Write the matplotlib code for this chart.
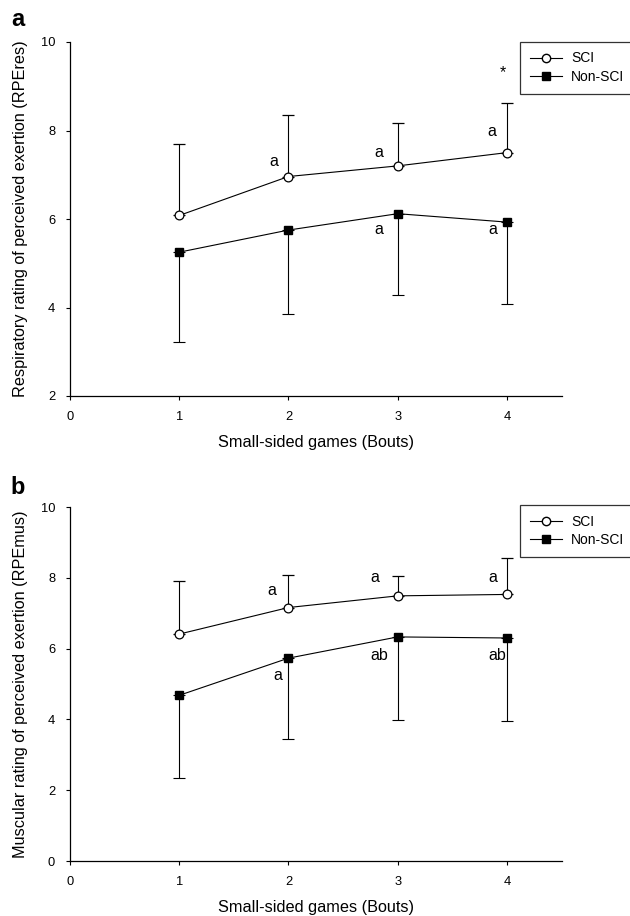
import matplotlib
matplotlib.use("Agg")
import matplotlib.pyplot as plt
from matplotlib.lines import Line2D

plt.rcParams['font.family'] = ['Liberation Sans', 'DejaVu Sans']

bouts = [1, 2, 3, 4]

# Panel a: respiratory RPE
res_sci = [6.08, 6.96, 7.20, 7.50]
res_sci_err = [1.61, 1.38, 0.98, 1.13]
res_non = [5.25, 5.75, 6.12, 5.93]
res_non_err = [2.03, 1.90, 1.84, 1.84]

# Panel b: muscular RPE
mus_sci = [6.41, 7.16, 7.49, 7.53]
mus_sci_err = [1.50, 0.93, 0.56, 1.02]
mus_non = [4.68, 5.73, 6.33, 6.30]
mus_non_err = [2.33, 2.27, 2.35, 2.35]

res_notes = [(1.87, 7.31, 'a'), (2.83, 7.51, 'a'), (3.86, 7.97, 'a'),
             (3.96, 9.30, '*'), (2.83, 5.76, 'a'), (3.87, 5.76, 'a')]
mus_notes = [(1.85, 7.63, 'a'), (2.79, 8.00, 'a'), (3.87, 8.00, 'a'),
             (1.90, 5.24, 'a'), (2.83, 5.80, 'ab'), (3.91, 5.80, 'ab')]

W, H = 630, 916
fig = plt.figure(figsize=(W / 100, H / 100), dpi=100)
left, width = 70 / W, 491.5 / W
axa = fig.add_axes([left, 1 - 396 / H, width, 354 / H])
axb = fig.add_axes([left, 1 - 861 / H, width, 354 / H])


def draw(ax, sci, sci_err, non, non_err, ylim, yticks, ylabel, notes):
    ax.errorbar(bouts, sci, yerr=[[0] * 4, sci_err], color='black', lw=0.8,
                marker='o', mfc='white', mec='black', ms=6.3, mew=0.9,
                capsize=4, elinewidth=0.8, capthick=0.8, zorder=3)
    ax.errorbar(bouts, non, yerr=[non_err, [0] * 4], color='black', lw=0.8,
                marker='s', mfc='black', mec='black', ms=5.6,
                capsize=4, elinewidth=0.8, capthick=0.8, zorder=3)
    ax.set_xlim(0, 4.5)
    ax.set_ylim(*ylim)
    ax.set_xticks([0, 1, 2, 3, 4])
    ax.set_yticks(yticks)
    ax.spines['top'].set_visible(False)
    ax.spines['right'].set_visible(False)
    for s in ('left', 'bottom'):
        ax.spines[s].set_linewidth(0.9)
    ax.tick_params(direction='out', length=3.2, width=0.8, labelsize=9.3, pad=7.5)
    ax.set_xlabel('Small-sided games (Bouts)', fontsize=11.7, labelpad=9)
    ax.set_ylabel(ylabel, fontsize=11.7, labelpad=9)
    for x, y, t in notes:
        ax.text(x, y, t, fontsize=11.5, ha='center', va='center')


draw(axa, res_sci, res_sci_err, res_non, res_non_err, (2, 10), [2, 4, 6, 8, 10],
     'Respiratory rating of perceived exertion (RPEres)', res_notes)
draw(axb, mus_sci, mus_sci_err, mus_non, mus_non_err, (0, 10), [0, 2, 4, 6, 8, 10],
     'Muscular rating of perceived exertion (RPEmus)', mus_notes)

handles = [Line2D([], [], color='black', lw=0.8, marker='o', mfc='white', mec='black', ms=6),
           Line2D([], [], color='black', lw=0.8, marker='s', mfc='black', mec='black', ms=5.3)]
for ytop in (1 - 41.5 / H, 1 - 505 / H):
    fig.legend(handles, ['SCI', 'Non-SCI'], loc='upper left',
               bbox_to_anchor=(520 / W, ytop), frameon=True, fancybox=False,
               edgecolor='black', fontsize=10, handlelength=2.3,
               handletextpad=0.65, borderpad=0.72, labelspacing=0.3,
               borderaxespad=0).get_frame().set_linewidth(0.9)

fig.text(18 / W, 1 - 20 / H, 'a', fontsize=17, fontweight='bold', ha='center', va='center')
fig.text(18 / W, 1 - 487 / H, 'b', fontsize=17, fontweight='bold', ha='center', va='center')

fig.savefig('out.png', dpi=100)
